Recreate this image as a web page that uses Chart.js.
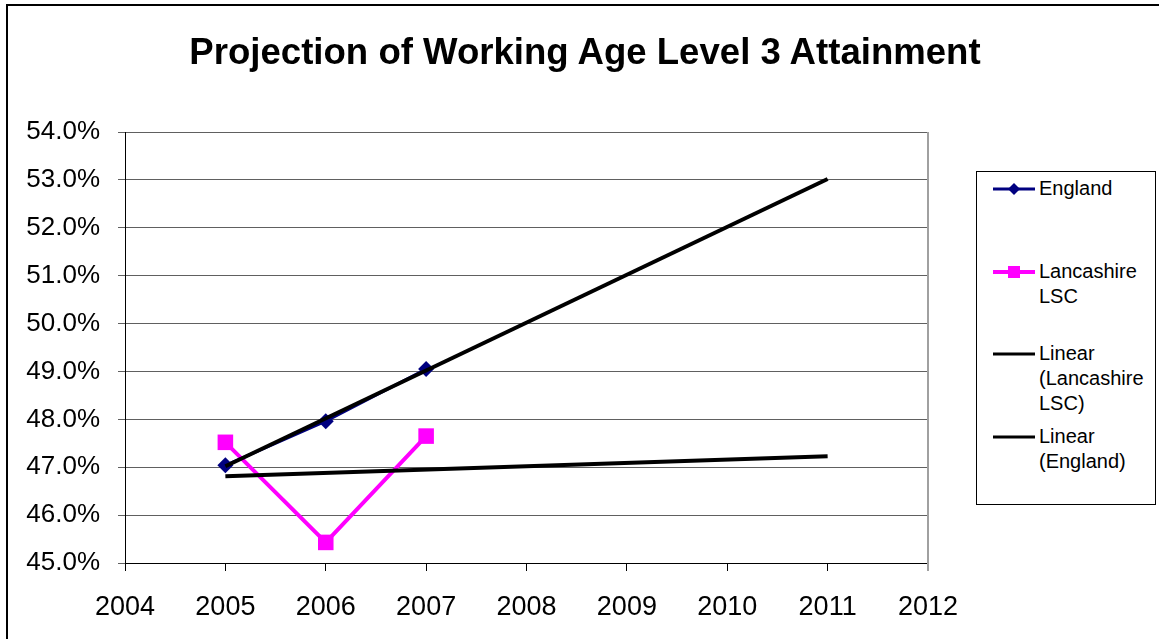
<!DOCTYPE html>
<html>
<head>
<meta charset="utf-8">
<script src="https://cdn.jsdelivr.net/npm/chart.js@4"></script>
<style>
  html, body { margin: 0; padding: 0; background: #fff; overflow: hidden; }
  #wrap { position: relative; width: 1159px; height: 639px; font-family: "Liberation Sans", Arial, sans-serif; }
  #frame { position: absolute; left: 6px; top: 4px; width: 1300px; height: 800px; border: 2px solid #000; }
  #title { position: absolute; left: 0; width: 1170px; top: 31px; text-align: center; font-weight: bold; font-size: 36.6px; line-height: 42px; color: #000; }
  #legend { position: absolute; left: 976px; top: 171px; width: 178px; height: 332px; border: 1px solid #000; background: #fff; }
  .item { position: absolute; left: 16px; font-size: 20px; line-height: 25px; color: #000; }
  .txt { position: absolute; left: 46px; white-space: nowrap; }
  canvas#c { position: absolute; left: 0; top: 0; }
</style>
</head>
<body>
<div id="wrap">
  <div id="frame"></div>
  <canvas id="c" width="1159" height="639"></canvas>
  <div id="title">Projection of Working Age Level 3 Attainment</div>
  <div id="legend"></div>
</div>
<script>
// data
var years = [2005, 2006, 2007];
var england = [47.04, 47.96, 49.05];
var lancashire = [47.52, 45.43, 47.65];
// trend line end points (Excel linear trendlines, 2005 -> 2011)
var trendYears = [2005, 2011];
var englandTrend = [47.02, 53.02];
var lancashireTrend = [46.81, 47.23];
var yTicks = [45, 46, 47, 48, 49, 50, 51, 52, 53, 54];
var xTicks = [2004, 2005, 2006, 2007, 2008, 2009, 2010, 2011, 2012];

function pts(xs, ys) {
    return xs.map(function(x, i) { return { x: x, y: ys[i] }; });
}

var plotFrame = {
    id: 'plotFrame',
    afterDraw: function(chart) {
        var a = chart.chartArea, ctx = chart.ctx;
        ctx.save();
        ctx.strokeStyle = '#a0a0a0';
        ctx.lineWidth = 2;
        ctx.beginPath();
        ctx.moveTo(a.right, a.top);
        ctx.lineTo(a.right, a.bottom + 8);
        ctx.stroke();
        ctx.restore();
    }
};

var ctx = document.getElementById('c');
new Chart(ctx, {
    type: 'scatter',
    data: {
        datasets: [{
            label: 'England',
            data: pts(years, england),
            showLine: true,
            borderColor: '#000080',
            backgroundColor: '#000080',
            borderWidth: 3,
            pointStyle: 'rectRot',
            pointRadius: 8,
            pointBorderWidth: 0,
            order: 2
        }, {
            label: 'Lancashire LSC',
            data: pts(years, lancashire),
            showLine: true,
            borderColor: '#ff00ff',
            backgroundColor: '#ff00ff',
            borderWidth: 4,
            pointStyle: 'rect',
            pointRadius: 11,
            pointBorderWidth: 0,
            order: 2
        }, {
            label: 'Linear (Lancashire LSC)',
            data: pts(trendYears, lancashireTrend),
            showLine: true,
            borderColor: '#000',
            borderWidth: 4,
            pointRadius: 0,
            order: 1
        }, {
            label: 'Linear (England)',
            data: pts(trendYears, englandTrend),
            showLine: true,
            borderColor: '#000',
            borderWidth: 4,
            pointRadius: 0,
            order: 1
        }]
    },
    options: {
        responsive: false,
        animation: false,
        layout: { padding: { top: 132, right: 231, left: 0, bottom: 0 } },
        plugins: {
            legend: { display: false },
            tooltip: { enabled: false },
            title: { display: false }
        },
        scales: {
            x: {
                type: 'linear',
                min: 2004,
                max: 2012,
                afterBuildTicks: function(s) { s.ticks = xTicks.map(function(v) { return { value: v }; }); },
                afterFit: function(s) { s.height = 639 - 563; },
                ticks: {
                    color: '#000',
                    font: { family: '"Liberation Sans", Arial, sans-serif', size: 27 },
                    padding: 20,
                    maxRotation: 0,
                    callback: function(v) { return String(v); }
                },
                grid: { drawOnChartArea: false, color: '#000', tickLength: 8 },
                border: { color: '#000', width: 1 }
            },
            y: {
                min: 45,
                max: 54,
                afterBuildTicks: function(s) { s.ticks = yTicks.map(function(v) { return { value: v }; }); },
                afterFit: function(s) { s.width = 125; },
                ticks: {
                    color: '#000',
                    font: { family: '"Liberation Sans", Arial, sans-serif', size: 26 },
                    padding: 18,
                    callback: function(v) { return v.toFixed(1) + '%'; }
                },
                grid: { color: '#606060', tickLength: 7, lineWidth: 1 },
                border: { color: '#000', width: 1 }
            }
        }
    },
    plugins: [plotFrame]
});

// legend
var legendItems = [
    { lines: ['England'], color: '#000080', marker: 'diamond', top: 4 },
    { lines: ['Lancashire', 'LSC'], color: '#ff00ff', marker: 'square', top: 87 },
    { lines: ['Linear', '(Lancashire', 'LSC)'], color: '#000', marker: null, top: 169 },
    { lines: ['Linear', '(England)'], color: '#000', marker: null, top: 252 }
];
var legend = document.getElementById('legend');
legendItems.forEach(function(it) {
    var d = document.createElement('div');
    d.className = 'item';
    d.style.top = it.top + 'px';
    var sw = document.createElement('canvas');
    sw.width = 42; sw.height = 16;
    sw.style.position = 'absolute';
    sw.style.left = '0px';
    sw.style.top = '5px';
    var g = sw.getContext('2d');
    g.strokeStyle = it.color;
    g.fillStyle = it.color;
    g.lineWidth = it.marker === 'square' ? 4 : 3;
    g.beginPath(); g.moveTo(0, 8); g.lineTo(42, 8); g.stroke();
    if (it.marker === 'diamond') {
        g.beginPath(); g.moveTo(21, 2); g.lineTo(27, 8); g.lineTo(21, 14); g.lineTo(15, 8); g.closePath(); g.fill();
    } else if (it.marker === 'square') {
        g.fillRect(15, 2, 12, 12);
    }
    d.appendChild(sw);
    var t = document.createElement('div');
    t.className = 'txt';
    t.innerHTML = it.lines.join('<br>');
    d.appendChild(t);
    legend.appendChild(d);
});
</script>
</body>
</html>
